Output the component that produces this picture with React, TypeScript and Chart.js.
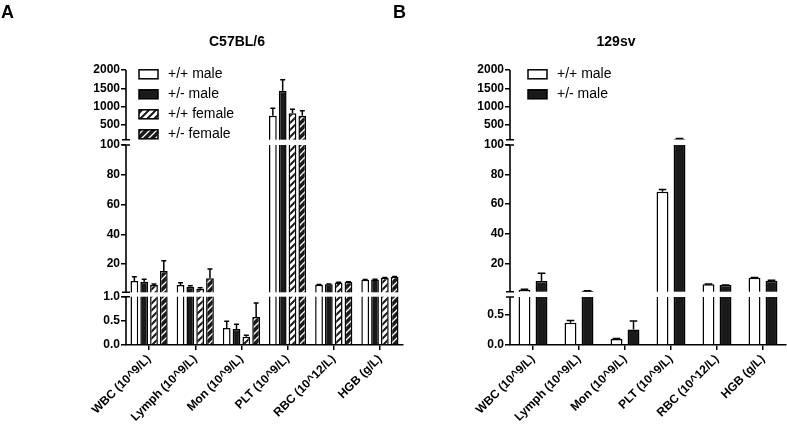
import React, { useEffect, useRef } from 'react';
import { Chart, registerables } from 'chart.js';

Chart.register(...registerables);

// ---------- data ----------
const CATEGORIES = ['WBC (10^9/L)', 'Lymph (10^9/L)', 'Mon (10^9/L)', 'PLT (10^9/L)', 'RBC (10^12/L)', 'HGB (g/L)'];

// Panel A: C57BL/6
const A_WT_MALE = [8.6, 5.9, 0.35, 754, 6.1, 9.4];
const A_WT_MALE_ERR = [2.9, 1.6, 0.14, 200, 0.2, 0.2];
const A_HET_MALE = [8.1, 4.8, 0.33, 1435, 6.4, 9.6];
const A_HET_MALE_ERR = [1.6, 0.6, 0.1, 300, 0.2, 0.2];
const A_WT_FEMALE = [5.9, 3.4, 0.17, 819, 7.6, 10.8];
const A_WT_FEMALE_ERR = [0.7, 0.7, 0.03, 110, 0.2, 0.2];
const A_HET_FEMALE = [15.3, 10.4, 0.58, 754, 7.9, 11.4];
const A_HET_FEMALE_ERR = [6.9, 6.3, 0.29, 136, 0.2, 0.2];

// Panel B: 129sv
const B_WT_MALE = [1.95, 0.37, 0.1, 68.4, 5.8, 10.3];
const B_WT_MALE_ERR = [0.45, 0.04, 0.01, 1.5, 0.15, 0.15];
const B_HET_MALE = [8.0, 1.3, 0.26, 110, 5.3, 8.2];
const B_HET_MALE_ERR = [5.2, 0.1, 0.14, 25, 0.1, 0.3];

// tick labels of the broken axis segments
const TICKS_LOW_A = [0, 0.5, 1];
const TICKS_LOW_B = [0, 0.5];
const TICKS_MID = [20, 40, 60, 80, 100];
const TICKS_HIGH = [500, 1000, 1500, 2000];

const TITLE_A = 'C57BL/6';
const TITLE_B = '129sv';

// ---------- styling ----------
const FONT = '"Liberation Sans", Arial, Helvetica, sans-serif';

type Seg = {
  id: string; min: number; max: number; px: number; padLo: number; padHi: number;
  ticks: number[]; decimals: number;
};

function makePattern(bg: string, fg: string, lw: number): CanvasPattern | string {
  const s = 7;
  const c = document.createElement('canvas');
  c.width = s; c.height = s;
  const g = c.getContext('2d');
  if (!g) return bg;
  g.fillStyle = bg;
  g.fillRect(0, 0, s, s);
  g.strokeStyle = fg;
  g.lineWidth = lw;
  g.beginPath();
  g.moveTo(-1, s + 1); g.lineTo(s + 1, -1);
  g.moveTo(-2, 2); g.lineTo(2, -2);
  g.moveTo(s - 2, s + 2); g.lineTo(s + 2, s - 2);
  g.stroke();
  return g.createPattern(c, 'repeat') || bg;
}

type SeriesCfg = { label: string; values: number[]; err: number[]; kind: 'white' | 'black' | 'hatchW' | 'hatchB' };

type PanelCfg = {
  width: number; left: number;
  padding: { left: number; right: number; top: number; bottom: number };
  title: string; titleX: number; legendX: number;
  catPct: number; barPct: number;
  series: SeriesCfg[];
  segs: Seg[];
};

const PANEL_A: PanelCfg = {
  width: 410, left: 0,
  padding: { left: 80, right: 7, top: 70, bottom: 0 },
  title: TITLE_A, titleX: 237, legendX: 139,
  catPct: 0.85, barPct: 0.79,
  series: [
    { label: '+/+ male', values: A_WT_MALE, err: A_WT_MALE_ERR, kind: 'white' },
    { label: '+/- male', values: A_HET_MALE, err: A_HET_MALE_ERR, kind: 'black' },
    { label: '+/+ female', values: A_WT_FEMALE, err: A_WT_FEMALE_ERR, kind: 'hatchW' },
    { label: '+/- female', values: A_HET_FEMALE, err: A_HET_FEMALE_ERR, kind: 'hatchB' },
  ],
  segs: [
    { id: 'yLow', min: 0, max: 1, px: 48.3, padLo: 0, padHi: 2.2, ticks: TICKS_LOW_A, decimals: 1 },
    { id: 'yMid', min: 1, max: 100, px: 147.3, padLo: 2.2, padHi: 2.7, ticks: TICKS_MID, decimals: 0 },
    { id: 'yHigh', min: 100, max: 2000, px: 69.7, padLo: 2.6, padHi: 0, ticks: TICKS_HIGH, decimals: 0 },
  ],
};

const PANEL_B: PanelCfg = {
  width: 377, left: 410,
  padding: { left: 54, right: 1, top: 70, bottom: 0 },
  title: TITLE_B, titleX: 206, legendX: 118,
  catPct: 0.74, barPct: 0.7,
  series: [
    { label: '+/+ male', values: B_WT_MALE, err: B_WT_MALE_ERR, kind: 'white' },
    { label: '+/- male', values: B_HET_MALE, err: B_HET_MALE_ERR, kind: 'black' },
  ],
  segs: [
    { id: 'yLow', min: 0, max: 0.8, px: 48, padLo: 0, padHi: 2.7, ticks: TICKS_LOW_B, decimals: 1 },
    { id: 'yMid', min: 0.8, max: 100, px: 146.7, padLo: 2.6, padHi: 2.7, ticks: TICKS_MID, decimals: 0 },
    { id: 'yHigh', min: 100, max: 2000, px: 69.7, padLo: 2.6, padHi: 0, ticks: TICKS_HIGH, decimals: 0 },
  ],
};

function scaleRange(seg: Seg) {
  const upp = (seg.max - seg.min) / seg.px;
  return { lo: seg.min - seg.padLo * upp, hi: seg.max + seg.padHi * upp };
}

function Panel({ cfg }: { cfg: PanelCfg }) {
  const ref = useRef<HTMLCanvasElement>(null);

  useEffect(() => {
    const canvas = ref.current;
    if (!canvas) return;
    const fills = {
      white: '#ffffff',
      black: '#1a1a1a',
      hatchW: makePattern('#ffffff', '#1a1a1a', 2),
      hatchB: makePattern('#1a1a1a', '#ffffff', 1.3),
    } as Record<string, any>;

    const segs = cfg.segs;
    const nSeg = segs.length;
    const datasets: any[] = [];
    cfg.series.forEach((s, i) => {
      segs.forEach((seg) => {
        const r = scaleRange(seg);
        datasets.push({
          label: s.label,
          stack: 's' + i,
          yAxisID: seg.id,
          data: s.values.map((v) => {
            if (seg.min > 0 && v <= seg.min) return null;
            const lo = seg.min === 0 ? 0 : r.lo;
            const hi = v > seg.max ? r.hi : v;
            return [lo, hi];
          }),
          backgroundColor: fills[s.kind],
          borderColor: '#000',
          borderWidth: 1.5,
          borderSkipped: 'start',
          categoryPercentage: cfg.catPct,
          barPercentage: cfg.barPct,
        });
      });
    });

    const scales: any = {
      x: {
        type: 'category',
        offset: true,
        grid: { display: true, drawOnChartArea: false, drawTicks: true, tickLength: 5, color: '#000', lineWidth: 1.5, offset: false },
        border: { display: true, color: '#000', width: 1.5 },
        ticks: { color: '#000', font: { family: FONT, size: 12, weight: 'bold' }, minRotation: 45, maxRotation: 45, padding: 2, autoSkip: false },
        afterFit: (s: any) => { s.height = 89; },
      },
    };
    segs.forEach((seg, k) => {
      const r = scaleRange(seg);
      scales[seg.id] = {
        type: 'linear',
        position: 'left',
        stack: 'ys',
        stackWeight: seg.px + seg.padLo + seg.padHi,
        weight: k + 1,
        min: r.lo,
        max: r.hi,
        bounds: 'data',
        grid: { display: true, drawOnChartArea: false, drawTicks: true, tickLength: 5, color: '#000', lineWidth: 1.5 },
        border: { display: false },
        ticks: {
          color: '#000',
          padding: 1,
          autoSkip: false,
          font: { family: FONT, size: 12, weight: 'bold' },
          callback: (v: any) => Number(v).toFixed(seg.decimals),
        },
        afterBuildTicks: (s: any) => { s.ticks = seg.ticks.map((value) => ({ value })); },
        afterFit: (s: any) => { s.width = 46; },
      };
    });

    const decor = {
      id: 'decor',
      afterDatasetsDraw(chart: any) {
        const ctx = chart.ctx as CanvasRenderingContext2D;
        const ca = chart.chartArea;
        ctx.save();
        // white break bands
        ctx.fillStyle = '#ffffff';
        for (let k = 0; k < nSeg - 1; k++) {
          const yLow = chart.scales[segs[k].id].getPixelForValue(segs[k].max);
          const yUp = chart.scales[segs[k + 1].id].getPixelForValue(segs[k + 1].min);
          ctx.fillRect(ca.left + 1, yUp, ca.right - ca.left, yLow - yUp);
        }
        // error bars
        ctx.strokeStyle = '#000';
        ctx.lineWidth = 1.5;
        cfg.series.forEach((s, i) => {
          s.values.forEach((v, j) => {
            const e = s.err[j];
            let k = 0;
            while (k < nSeg - 1 && v > segs[k].max) k++;
            const meta = chart.getDatasetMeta(i * nSeg + k);
            const el = meta.data[j];
            if (!el) return;
            const sc = chart.scales[segs[k].id];
            const y1 = sc.getPixelForValue(v);
            const y2 = sc.getPixelForValue(v + e);
            const hw = el.width * 0.32;
            ctx.beginPath();
            ctx.moveTo(el.x, y1);
            ctx.lineTo(el.x, y2);
            ctx.moveTo(el.x - hw, y2);
            ctx.lineTo(el.x + hw, y2);
            ctx.stroke();
          });
        });
        // broken y axis
        ctx.lineWidth = 1.6;
        const x = ca.left;
        segs.forEach((seg, k) => {
          const sc = chart.scales[seg.id];
          const yTop = sc.getPixelForValue(seg.max);
          const yBot = k === 0 ? ca.bottom : sc.getPixelForValue(seg.min);
          ctx.beginPath();
          ctx.moveTo(x, yTop);
          ctx.lineTo(x, yBot);
          if (k > 0) { ctx.moveTo(x - 4, yBot); ctx.lineTo(x + 4, yBot); }
          if (k < nSeg - 1) { ctx.moveTo(x - 4, yTop); ctx.lineTo(x + 4, yTop); }
          ctx.stroke();
        });
        ctx.restore();
      },
      afterDraw(chart: any) {
        const ctx = chart.ctx as CanvasRenderingContext2D;
        ctx.save();
        // title
        ctx.fillStyle = '#000';
        ctx.font = `bold 14px ${FONT}`;
        ctx.textAlign = 'center';
        ctx.textBaseline = 'middle';
        ctx.fillText(cfg.title, cfg.titleX, 42);
        // legend
        ctx.textAlign = 'left';
        ctx.font = `14px ${FONT}`;
        cfg.series.forEach((s, i) => {
          const cy = 74.3 + i * 20;
          ctx.fillStyle = fills[s.kind];
          ctx.fillRect(cfg.legendX, cy - 4.5, 19, 9);
          ctx.strokeStyle = '#000';
          ctx.lineWidth = 1.5;
          ctx.strokeRect(cfg.legendX, cy - 4.5, 19, 9);
          ctx.fillStyle = '#000';
          ctx.fillText(s.label, cfg.legendX + 29, cy);
        });
        ctx.restore();
      },
    };

    const chart = new Chart(canvas, {
      type: 'bar',
      data: { labels: CATEGORIES, datasets },
      options: {
        responsive: false,
        animation: false,
        devicePixelRatio: 1,
        layout: { padding: cfg.padding },
        plugins: { legend: { display: false }, title: { display: false }, tooltip: { enabled: false } },
        scales,
      } as any,
      plugins: [decor],
    });
    return () => chart.destroy();
  }, [cfg]);

  return (
    <canvas
      ref={ref}
      width={cfg.width}
      height={434}
      style={{ position: 'absolute', left: cfg.left, top: 0, width: cfg.width, height: 434 }}
    />
  );
}

const letterStyle: React.CSSProperties = {
  position: 'absolute', top: 2.7, fontFamily: FONT, fontWeight: 'bold', fontSize: 18, lineHeight: '18px', color: '#000',
};

export default function App() {
  return (
    <div style={{ position: 'absolute', left: 0, top: 0, width: 787, height: 434, background: '#fff', overflow: 'hidden' }}>
      <Panel cfg={PANEL_A} />
      <Panel cfg={PANEL_B} />
      <div style={{ ...letterStyle, left: 1 }}>A</div>
      <div style={{ ...letterStyle, left: 393 }}>B</div>
    </div>
  );
}
